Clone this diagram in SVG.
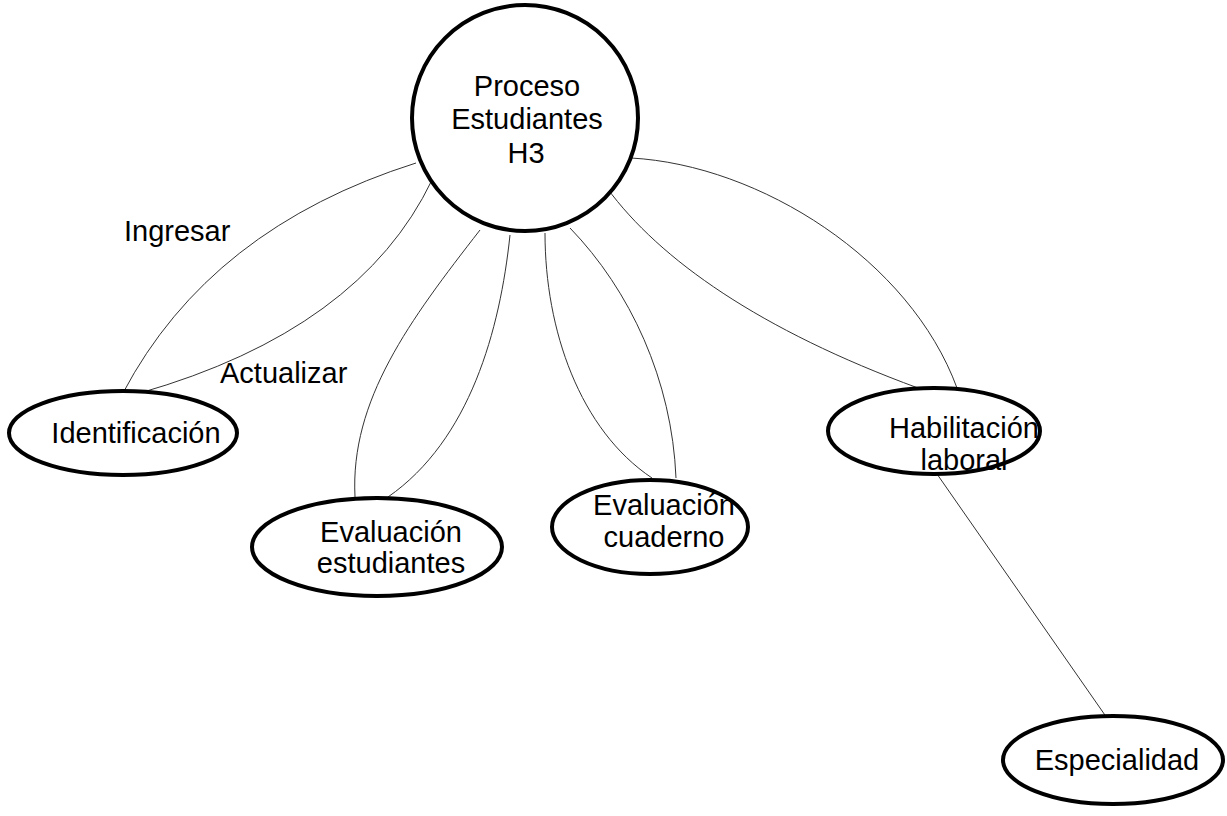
<svg xmlns="http://www.w3.org/2000/svg" width="1227" height="816" viewBox="0 0 1227 816">
<style>
.node{fill:#fff;stroke:#000;stroke-width:4}
.lbl{font-family:"Liberation Sans",Arial,sans-serif;font-size:29px;fill:#000}
.c{text-anchor:middle}
.conn path{fill:none;stroke:#333;stroke-width:1}
</style>
<rect width="1227" height="816" fill="#fff"/>
<g id="connectors" class="conn">
<path d="M416,163 Q210,228 123,393"/>
<path d="M432,180 Q360,330 140,393"/>
<path d="M480,230 C410,320 350,400 355,497"/>
<path d="M510,235 C500,330 470,440 388,497"/>
<path d="M545,233 C545,330 580,430 652,478"/>
<path d="M570,228 C630,290 672,380 676,478"/>
<path d="M607,188 C660,260 760,330 918,388"/>
<path d="M631,158 C760,165 910,260 957,388"/>
<path d="M937,474 L1107,718"/>
</g>
<g id="labels">
<text class="lbl" x="124" y="241">Ingresar</text>
<text class="lbl" x="220" y="383">Actualizar</text>
</g>
<g id="proceso">
<circle class="node" cx="525" cy="118" r="113"/>
<text class="lbl c" x="527" y="96">Proceso</text>
<text class="lbl c" x="527" y="129">Estudiantes</text>
<text class="lbl c" x="526" y="163">H3</text>
</g>
<g id="identificacion">
<ellipse class="node" cx="123" cy="433" rx="114" ry="42"/>
<text class="lbl c" x="136" y="443">Identificación</text>
</g>
<g id="eval-estudiantes">
<ellipse class="node" cx="377" cy="547" rx="125" ry="49"/>
<text class="lbl c" x="391" y="542">Evaluación</text>
<text class="lbl c" x="391" y="573">estudiantes</text>
</g>
<g id="eval-cuaderno">
<ellipse class="node" cx="650" cy="527" rx="98" ry="47"/>
<text class="lbl c" x="664" y="515">Evaluación</text>
<text class="lbl c" x="664" y="547">cuaderno</text>
</g>
<g id="habilitacion">
<ellipse class="node" cx="934" cy="431" rx="106" ry="43"/>
<text class="lbl c" x="964" y="438">Habilitación</text>
<text class="lbl c" x="964" y="470">laboral</text>
</g>
<g id="especialidad">
<ellipse class="node" cx="1113" cy="760" rx="110" ry="44"/>
<text class="lbl c" x="1117" y="770">Especialidad</text>
</g>
</svg>
